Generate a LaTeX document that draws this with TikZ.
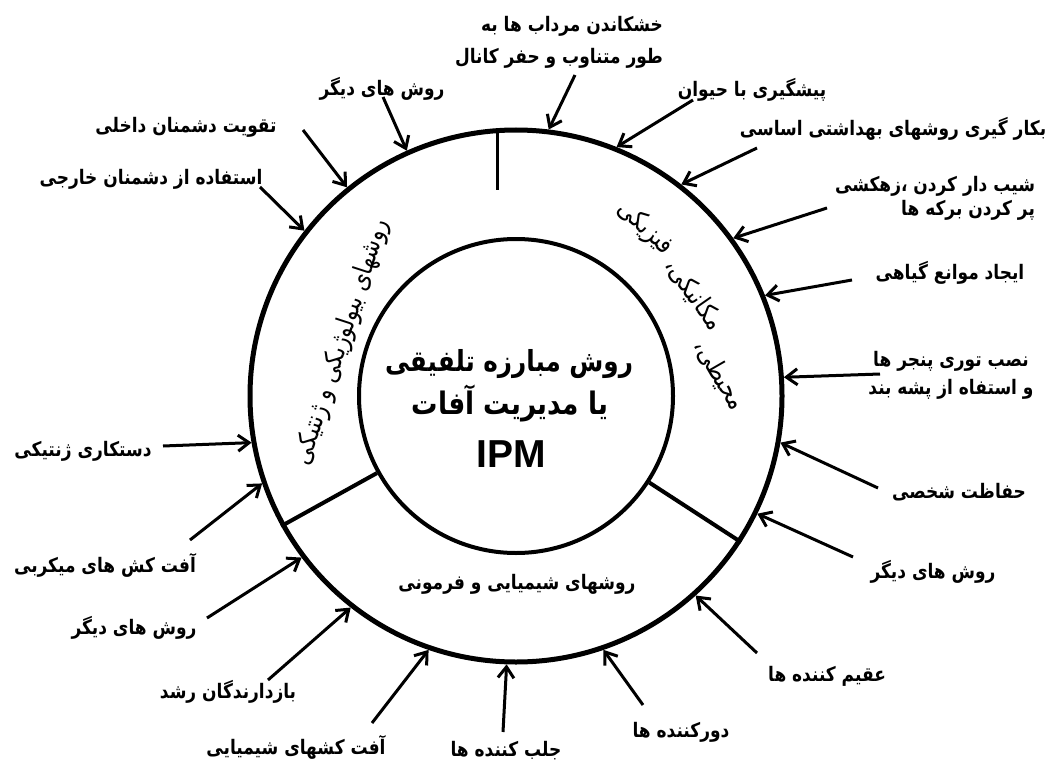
\documentclass[tikz,border=0pt]{standalone}
\usepackage{fontspec}
\usetikzlibrary{arrows.meta}
\TeXXeTstate=1
\newfontfamily\farsi[Script=Arabic, FakeStretch=0.85]{DejaVu Sans}
\newfontfamily\latin{Liberation Sans}
\newcommand{\rl}[1]{\beginR #1\endR}

\begin{document}
\begin{tikzpicture}[
  x=1pt, y=-1pt,
  lbl/.style={font=\farsi\bfseries\fontsize{20}{24}\selectfont, inner sep=0pt},
  title/.style={font=\farsi\bfseries\fontsize{29}{34}\selectfont, inner sep=0pt},
  ringlbl/.style={font=\farsi\fontsize{26}{30}\selectfont, inner sep=0pt},
  ring/.style={circle, draw, inner sep=0pt},
  arrow/.style={-{Straight Barb[length=11pt,width=16pt]}, line width=3pt},
  divider/.style={line width=4pt}
]
\useasboundingbox[fill=white] (0,0) rectangle (1047,765);

\node (outer) [ring, line width=5pt, minimum size=532pt] at (516,396) {};
\node (inner) [ring, line width=4pt, minimum size=314pt] at (516,396) {};

\draw [divider, line width=3pt] (outer.94.5) -- ++(0,62);
\draw [divider] (outer.209) -- (inner.209);
\draw [divider] (outer.327) -- (inner.327);

\node (title1) [title] at (509,364) {\rl{روش مبارزه تلفیقی}};
\node (title2) [title, font=\farsi\bfseries\fontsize{31}{34}\selectfont] at (510,403) {\rl{یا مدیریت آفات}};
\node (ipm) [font=\latin\bfseries\fontsize{39}{44}\selectfont, inner sep=0pt] at (511,454) {IPM};

\node (bio) [ringlbl, rotate=72] at (342,342) {\rl{روشهای بیولوژیکی و ژنتیکی}};
\node (phys1) [ringlbl, rotate=-43] at (645,228) {\rl{فیزیکی}};
\node (phys2) [ringlbl, rotate=-55] at (694,294) {\rl{مکانیکی،}};
\node (phys3) [ringlbl, rotate=-60] at (720,375) {\rl{محیطی،}};
\node (chem) [lbl] at (517,584) {\rl{روشهای شیمیایی و فرمونی}};

\node (drain) [lbl, align=right] at (559,42) {\rl{خشکاندن مرداب ها به}\\[8pt]\rl{طور متناوب و حفر کانال}};
\node (animal) [lbl] at (752,90) {\rl{پیشگیری با حیوان}};
\node (hygiene) [lbl] at (893,129) {\rl{بکار گیری روشهای بهداشتی اساسی}};
\node (slope) [lbl, align=right] at (935,198) {\rl{شیب دار کردن ،زهکشی}\\\rl{پر کردن برکه ها}};
\node (barrier) [lbl] at (950,273) {\rl{ایجاد موانع گیاهی}};
\node (screen) [lbl, align=center] at (951,375) {\rl{نصب توری پنجر ها}\\[4pt]\rl{و استفاه از پشه بند}};
\node (protect) [lbl] at (959,492) {\rl{حفاظت شخصی}};
\node (otherR) [lbl] at (933,572) {\rl{روش های دیگر}};
\node (steril) [lbl] at (827,676) {\rl{عقیم کننده ها}};
\node (repel) [lbl] at (681,732) {\rl{دورکننده ها}};
\node (attract) [lbl] at (506,751) {\rl{جلب کننده ها}};
\node (pest) [lbl] at (296,747) {\rl{آفت کشهای شیمیایی}};
\node (growth) [lbl] at (228,692) {\rl{بازدارندگان رشد}};
\node (otherL) [lbl] at (134,628) {\rl{روش های دیگر}};
\node (microb) [lbl] at (105,565) {\rl{آفت کش های میکربی}};
\node (genetic) [lbl] at (83,451) {\rl{دستکاری ژنتیکی}};
\node (foreign) [lbl] at (151,179) {\rl{استفاده از دشمنان خارجی}};
\node (native) [lbl] at (186,127) {\rl{تقویت دشمنان داخلی}};
\node (otherT) [lbl] at (382,89) {\rl{روش های دیگر}};

\coordinate (drainS) at (575,75);
\coordinate (animalS) at (693,100);
\coordinate (hygieneS) at (757,148);
\coordinate (slopeS) at (827,208);
\coordinate (barrierS) at (852,280);
\coordinate (screenS) at (880,374);
\coordinate (protectS) at (878,488);
\coordinate (otherRS) at (853,557);
\coordinate (sterilS) at (757,653);
\coordinate (repelS) at (643,705);
\coordinate (attractS) at (503,732);
\coordinate (pestS) at (372,723);
\coordinate (growthS) at (268,680);
\coordinate (otherLS) at (207,618);
\coordinate (microbS) at (190,540);
\coordinate (geneticS) at (163,446);
\coordinate (foreignS) at (260,187);
\coordinate (nativeS) at (303,130);
\coordinate (otherTS) at (383,97);

\draw [arrow] (drainS) -- (outer.83.2);
\draw [arrow] (animalS) -- (outer.68.4);
\draw [arrow] (hygieneS) -- (outer.52.5);
\draw [arrow] (slopeS) -- (outer.36.3);
\draw [arrow] (barrierS) -- (outer.22.3);
\draw [arrow] (screenS) -- (outer.4.7);
\draw [arrow] (protectS) -- (outer.-10.6);
\draw [arrow] (otherRS) -- (outer.-26.4);
\draw [arrow] (sterilS) -- (outer.-48.4);
\draw [arrow] (repelS) -- (outer.-71.2);
\draw [arrow] (attractS) -- (outer.-92.8);
\draw [arrow] (pestS) -- (outer.251.6);
\draw [arrow] (growthS) -- (outer.232.8);
\draw [arrow] (otherLS) -- (outer.217);
\draw [arrow] (microbS) -- (outer.199.8);
\draw [arrow] (geneticS) -- (outer.190.6);
\draw [arrow] (foreignS) -- (outer.142.7);
\draw [arrow] (nativeS) -- (outer.129.4);
\draw [arrow] (otherTS) -- (outer.114.3);

\end{tikzpicture}
\end{document}
